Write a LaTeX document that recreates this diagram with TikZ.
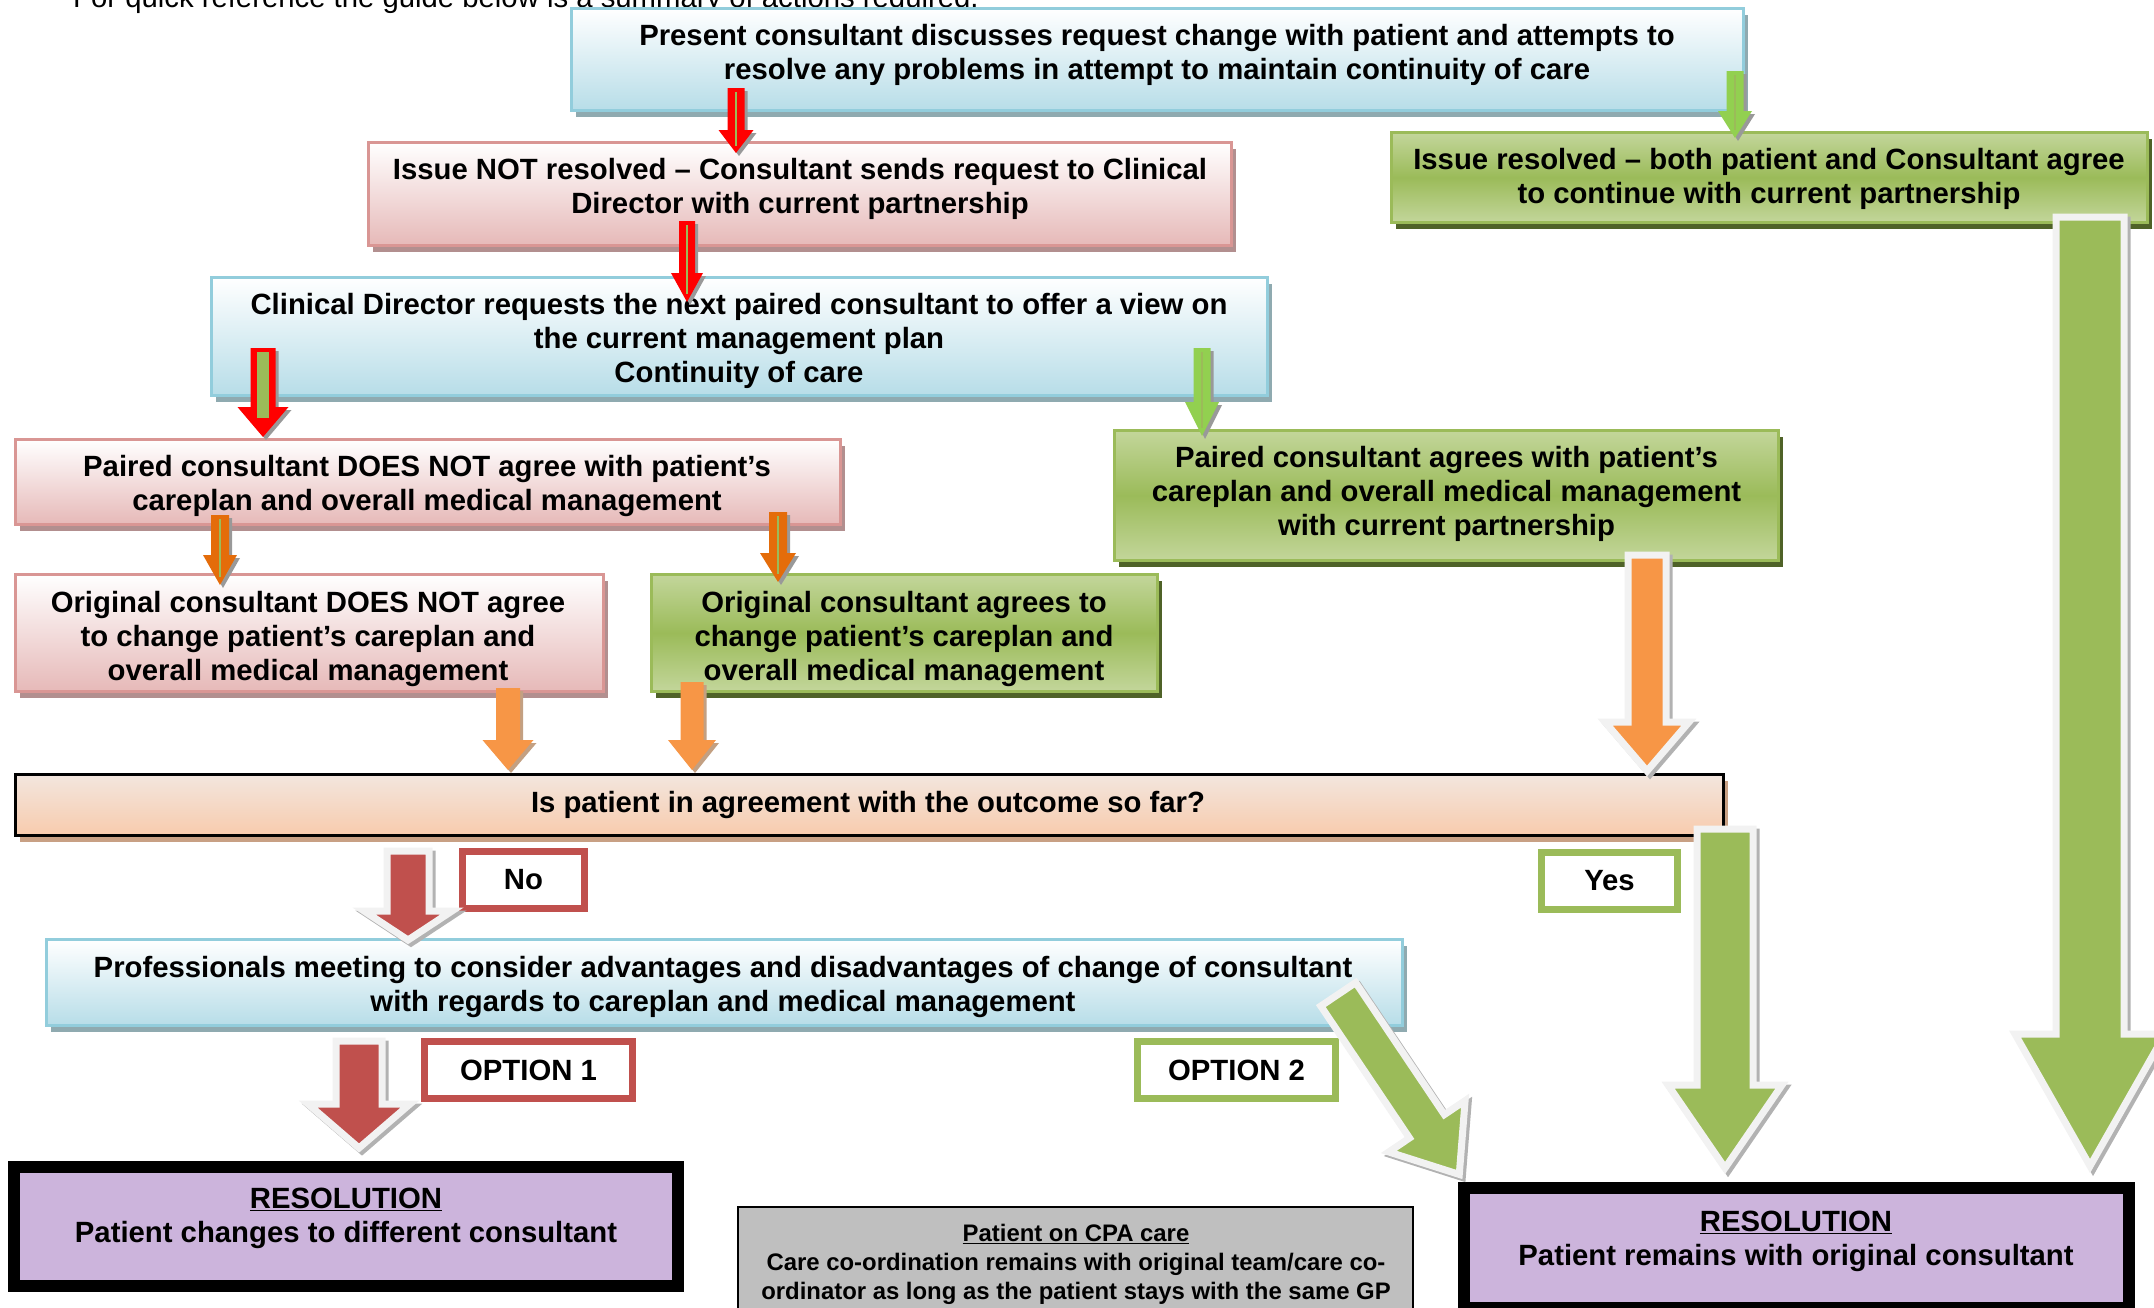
\documentclass[tikz,border=0pt]{standalone}
\usepackage{fontspec}
\setmainfont{Liberation Sans}
\definecolor{bluefill}{RGB}{183,221,232}
\definecolor{blueline}{RGB}{146,205,220}
\definecolor{blueshade}{RGB}{143,170,176}
\definecolor{redfill}{RGB}{230,185,184}
\definecolor{redline}{RGB}{217,150,148}
\definecolor{redshade}{RGB}{178,143,143}
\definecolor{greenlite}{RGB}{195,214,155}
\definecolor{greenmid}{RGB}{155,187,89}
\definecolor{greenshade}{RGB}{79,98,40}
\definecolor{peachtop}{RGB}{242,230,222}
\definecolor{peachbot}{RGB}{248,203,173}
\definecolor{peachshade}{RGB}{200,160,132}
\definecolor{darkred}{RGB}{192,80,77}
\definecolor{orangefill}{RGB}{247,150,70}
\definecolor{orangedeep}{RGB}{228,108,10}
\definecolor{limegreen}{RGB}{146,208,80}
\definecolor{resfill}{RGB}{204,180,220}
\definecolor{cpafill}{RGB}{191,191,191}
\definecolor{rim}{RGB}{242,242,242}
\definecolor{tanshade}{RGB}{195,160,130}
\tikzset{
  box/.style={rectangle, inner sep=0pt, line width=3pt},
  shadowed/.style={preaction={fill=#1, transform canvas={xshift=4pt,yshift=-6pt}}},
  bluebox/.style={box, draw=blueline, top color=white, bottom color=bluefill, shadowed=blueshade},
  redbox/.style={box, draw=redline, top color=white, bottom color=redfill, shadowed=redshade},
  greenbox/.style={box, draw=greenmid, top color=greenlite, bottom color=greenlite, middle color=greenmid, shadowed=greenshade},
  askbox/.style={box, draw=black, top color=peachtop, bottom color=peachbot, shadowed=peachshade},
  optbox/.style={box, draw=#1, fill=white, line width=7pt},
  resbox/.style={box, draw=black, fill=resfill, line width=12pt},
  cpabox/.style={box, draw=black, fill=cpafill, line width=2pt},
  txt/.style={font=\bfseries\fontsize{29.3}{34}\selectfont, align=center, inner sep=0pt},
  smalltxt/.style={font=\bfseries\fontsize{23.9}{29}\selectfont, align=center, inner sep=0pt},
  tinyarrow/.style={fill=#1, preaction={fill=black!40, transform canvas={xshift=3pt,yshift=-3pt}}},
  flatarrow/.style={fill=#1, preaction={fill=tanshade, transform canvas={xshift=3pt,yshift=-3pt}}},
  bigarrow/.style={fill=#1, draw=rim, line width=7pt, line join=miter,
                   preaction={draw=black!30, fill=black!30, line width=7pt, transform canvas={xshift=3pt,yshift=-3pt}}},
  vein/.style={line width=2pt, draw=greenmid},
}
% block arrow pointing down: [style]{x}{top}{tip}{half shaft}{half head}{head start}
\newcommand{\dnarrow}[7][]{%
  \path[#1] (#2-#5,#3) -- (#2+#5,#3) -- (#2+#5,#7) -- (#2+#6,#7) -- (#2,#4)
    -- (#2-#6,#7) -- (#2-#5,#7) -- cycle;}
\begin{document}
\begin{tikzpicture}[x=1pt, y=-1pt]
 \useasboundingbox (0,0) rectangle (2154,1307);

 \node[anchor=base west, inner sep=0pt, font=\fontsize{29.3}{34}\selectfont] (intro) at (73,7)
   {For quick reference the guide below is a summary of actions required.};

 % Boxes
 \node[bluebox, minimum width=1172pt, minimum height=102pt] (present) at (1157.5,59.5) {};
 \node[redbox, minimum width=863pt, minimum height=103pt] (notres) at (800,194) {};
 \node[greenbox, minimum width=756pt, minimum height=90pt] (resolved) at (1769.5,177.5) {};
 \node[bluebox, minimum width=1056pt, minimum height=118pt] (clinical) at (739.5,336.5) {};
 \node[redbox, minimum width=825pt, minimum height=85pt] (pairno) at (428,482) {};
 \node[greenbox, minimum width=664pt, minimum height=130pt] (pairyes) at (1446.5,495.5) {};
 \node[redbox, minimum width=588pt, minimum height=117pt] (origno) at (309.5,633) {};
 \node[greenbox, minimum width=506pt, minimum height=117pt] (origyes) at (904.5,633) {};
 \node[askbox, minimum width=1708pt, minimum height=61pt] (question) at (869.5,805) {};
 \node[bluebox, minimum width=1356pt, minimum height=86pt] (meeting) at (724.5,982.5) {};
 \node[optbox=darkred, minimum width=122pt, minimum height=57pt] (nobox) at (523.5,880) {};
 \node[optbox=greenmid, minimum width=136pt, minimum height=57pt] (yesbox) at (1609.5,881) {};
 \node[optbox=darkred, minimum width=208pt, minimum height=57pt] (opt1) at (528.5,1070) {};
 \node[optbox=greenmid, minimum width=198pt, minimum height=57pt] (opt2) at (1236.5,1070) {};
 \node[resbox, minimum width=664pt, minimum height=119pt] (res1) at (346,1226.5) {};
 \node[cpabox, minimum width=675pt, minimum height=120pt] (cpa) at (1075.5,1267) {};
 \node[resbox, minimum width=665pt, minimum height=120pt] (res2) at (1796.5,1248) {};

 % Texts
 \node[txt] (presentT) at (1157,55) {Present consultant discusses request change with patient and attempts to\\resolve any problems in attempt to maintain continuity of care};
 \node[txt] (notresT) at (800,189) {Issue NOT resolved – Consultant sends request to Clinical\\Director with current partnership};
 \node[txt] (resolvedT) at (1769,179) {Issue resolved – both patient and Consultant agree\\to continue with current partnership};
 \node[txt] (clinicalT) at (739,341) {Clinical Director requests the next paired consultant to offer a view on\\the current management plan\\Continuity of care};
 \node[txt] (pairnoT) at (427,486) {Paired consultant DOES NOT agree with patient’s\\careplan and overall medical management};
 \node[txt] (pairyesT) at (1446.5,494) {Paired consultant agrees with patient’s\\careplan and overall medical management\\with current partnership};
 \node[txt] (orignoT) at (308,639) {Original consultant DOES NOT agree\\to change patient’s careplan and\\overall medical management};
 \node[txt] (origyesT) at (904,639) {Original consultant agrees to\\change patient’s careplan and\\overall medical management};
 \node[txt] (questionT) at (868,805) {Is patient in agreement with the outcome so far?};
 \node[txt] (meetingT) at (723,987) {Professionals meeting to consider advantages and disadvantages of change of consultant\\with regards to careplan and medical management};
 \node[txt] (noT) at (nobox) {No};
 \node[txt] (yesT) at (yesbox) {Yes};
 \node[txt] (opt1T) at (opt1) {OPTION 1};
 \node[txt] (opt2T) at (opt2) {OPTION 2};
 \node[txt] (res1T) at (346,1218) {\underline{RESOLUTION}\\Patient changes to different consultant};
 \node[txt] (res2T) at (1796,1241) {\underline{RESOLUTION}\\Patient remains with original consultant};
 \node[smalltxt] (cpaT) at (1076,1264) {\underline{Patient on CPA care}\\Care co-ordination remains with original team/care co-\\ordinator as long as the patient stays with the same GP};

 % Small arrows
 \dnarrow[tinyarrow=red]{736}{88}{153}{8.5}{17.5}{130}
 \draw[vein] (736,92) -- (736,146);
 \dnarrow[tinyarrow=red]{687}{221}{302}{8}{16}{273}
 \draw[vein] (687,225) -- (687,294);
 \dnarrow[tinyarrow=red]{263}{348}{437}{12.5}{25.5}{407}
 \draw[vein, line width=12pt] (263,352) -- (263,418);
 \dnarrow[tinyarrow=limegreen]{1735}{71}{138}{8.5}{17}{111}
 \draw[vein] (1735,75) -- (1735,130);
 \dnarrow[tinyarrow=limegreen]{1202}{348}{436}{8.5}{17}{402}
 \draw[vein] (1202,352) -- (1202,428);
 \dnarrow[tinyarrow=orangedeep]{220}{515}{585}{9}{17}{555}
 \draw[vein] (220,519) -- (220,577);
 \dnarrow[tinyarrow=orangedeep]{778}{512}{582}{9}{18}{553}
 \draw[vein] (778,516) -- (778,574);
 \dnarrow[flatarrow=orangefill]{508}{688}{770}{12}{25.5}{740}
 \dnarrow[flatarrow=orangefill]{692}{682}{770}{11.5}{24}{740}

 % Large outlined arrows
 \dnarrow[bigarrow=orangefill]{1647}{555}{771}{19}{42}{722}
 \dnarrow[bigarrow=greenmid]{1725}{829}{1168}{28}{57}{1085}
 \dnarrow[bigarrow=greenmid]{2090}{217}{1166}{34}{75}{1034}
 \dnarrow[bigarrow=darkred]{408}{851}{940}{21}{44}{911}
 \dnarrow[bigarrow=darkred]{359}{1041}{1148}{23}{51}{1104}
 \begin{scope}[shift={(1336,991)}, rotate=33.9]
  \dnarrow[bigarrow=greenmid]{0}{4}{221}{21}{46}{163}
 \end{scope}
\end{tikzpicture}
\end{document}
